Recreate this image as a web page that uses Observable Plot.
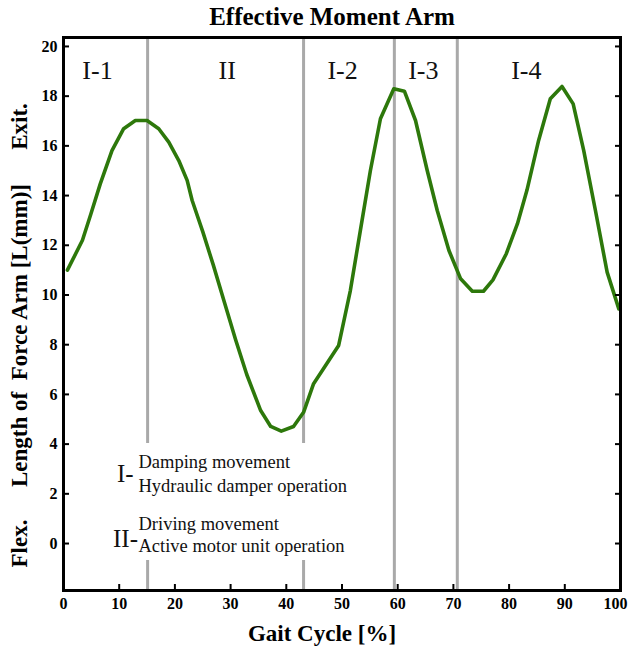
<!DOCTYPE html>
<html>
<head>
<meta charset="utf-8">
<script src="https://cdn.jsdelivr.net/npm/d3@7"></script>
<script src="https://cdn.jsdelivr.net/npm/@observablehq/plot@0.6"></script>
<style>
  body { margin: 0; background: #fff; }
  #wrap { position: relative; width: 630px; height: 650px; font-family: "Liberation Serif", "Times New Roman", serif; }
  #chart { position: absolute; left: 0; top: 0; }
  #title { position: absolute; left: 332px; top: 5px; transform: translateX(-50%); white-space: nowrap;
           font: bold 25px/24px "Liberation Serif", serif; color: #000; }
  #overlay { position: absolute; left: 0; top: 0; pointer-events: none; }
</style>
</head>
<body>
<div id="wrap">
  <div id="chart"></div>
  <div id="title">Effective Moment Arm</div>
  <svg id="overlay" width="630" height="650" xmlns="http://www.w3.org/2000/svg"></svg>
</div>
<script>
// ---- data ----
const gaitPercent = [0.7, 3.4, 4.9, 6.6, 8.7, 10.8, 12.9, 15.0, 17.1, 18.9, 20.7, 22.2, 23.1, 25.0, 26.9, 28.9, 30.9, 32.9, 35.4, 37.2, 39.1, 41.3, 43.1, 44.9, 49.4, 51.5, 53.3, 55.1, 56.9, 59.3, 61.2, 63.2, 65.3, 67.1, 69.2, 71.3, 73.4, 75.4, 77.1, 79.5, 81.5, 83.2, 85.3, 87.4, 89.5, 91.5, 93.4, 95.5, 97.6, 99.7];
const armLength   = [11.0, 12.2, 13.25, 14.47, 15.81, 16.69, 17.02, 17.02, 16.69, 16.15, 15.41, 14.61, 13.8, 12.55, 11.2, 9.7, 8.2, 6.8, 5.35, 4.71, 4.52, 4.71, 5.28, 6.43, 7.97, 10.18, 12.6, 15.01, 17.09, 18.3, 18.2, 17.02, 15.01, 13.4, 11.79, 10.65, 10.15, 10.15, 10.61, 11.66, 12.87, 14.21, 16.22, 17.9, 18.39, 17.69, 15.81, 13.4, 10.92, 9.44];
const phaseBounds = [15.1, 43.1, 59.4, 70.7];
const phaseLabels = ["I-1", "II", "I-2", "I-3", "I-4"];
const phaseLabelX = [6.1, 29.4, 50.1, 64.6, 83.1];
const phaseLabelY = 18.7;
const xTicks = [0, 10, 20, 30, 40, 50, 60, 70, 80, 90, 100];
const yTicks = [0, 2, 4, 6, 8, 10, 12, 14, 16, 18, 20];
const legendItems = [
  {key: "I-",  lines: ["Damping movement", "Hydraulic damper operation"]},
  {key: "II-", lines: ["Driving movement", "Active motor unit operation"]}
];

const curve = gaitPercent.map((x, i) => ({x, y: armLength[i]}));
const labels = phaseLabels.map((t, i) => ({t, x: phaseLabelX[i], y: phaseLabelY}));
const xTicksInner = xTicks.slice(0, -1);
const xTickLast = xTicks.slice(-1);

const chart = Plot.plot({
  width: 630,
  height: 650,
  marginLeft: 63,
  marginRight: 10,
  marginTop: 37,
  marginBottom: 60,
  style: {fontFamily: "'Liberation Serif', 'Times New Roman', serif", background: "white", color: "black"},
  x: {domain: [0, 100]},
  y: {domain: [-1.89, 20.36]},
  marks: [
    Plot.ruleX(phaseBounds, {stroke: "#a9a9a9", strokeWidth: 3}),
    Plot.line(curve, {x: "x", y: "y", stroke: "#2d780b", strokeWidth: 3.6, strokeLinejoin: "round", strokeLinecap: "round"}),
    Plot.text(labels, {x: "x", y: "y", text: "t", fontSize: 26, lineAnchor: "bottom", fill: "#111"}),
    Plot.axisX({ticks: xTicksInner, tickSize: -6, tickPadding: 13, fontSize: 16, fontWeight: "bold", label: null, strokeWidth: 2}),
    Plot.axisX({ticks: xTickLast, tickSize: 0, tickPadding: 7, fontSize: 16, fontWeight: "bold", label: null, dx: -5}),
    Plot.axisY({ticks: yTicks, tickSize: -6, tickPadding: 12, fontSize: 16, fontWeight: "bold", label: null, strokeWidth: 2}),
    Plot.axisY({anchor: "right", ticks: yTicks, tickSize: -6, tickFormat: () => "", label: null, strokeWidth: 2}),
    Plot.frame({stroke: "black", strokeWidth: 3})
  ]
});
document.getElementById("chart").appendChild(chart);

// ---- overlay: axis titles and phase legend ----
const ov = d3.select("#overlay");
const serif = "'Liberation Serif', 'Times New Roman', serif";

// y-axis title pieces (rotated)
[["Exit.", 126.5], ["Length of  Force Arm [L(mm)]", 335.5], ["Flex.", 543.5]].forEach(([t, cy]) => {
  ov.append("text")
    .attr("transform", `translate(27,${cy}) rotate(-90)`)
    .attr("text-anchor", "middle")
    .attr("font-family", serif).attr("font-weight", "bold").attr("font-size", 23)
    .style("white-space", "pre").attr("xml:space", "preserve")
    .text(t);
});

// x-axis title
ov.append("text")
  .attr("x", 322).attr("y", 641)
  .attr("text-anchor", "middle")
  .attr("font-family", serif).attr("font-weight", "bold").attr("font-size", 23)
  .text("Gait Cycle [%]");

// legend box (white, hides the phase lines behind it)
ov.append("rect").attr("x", 108).attr("y", 443).attr("width", 252).attr("height", 117).attr("fill", "white");
const keyPos = [{x: 117, y: 482}, {x: 113, y: 547}];
const linePos = [[468, 492], [530, 552]];
legendItems.forEach((item, i) => {
  ov.append("text").attr("x", keyPos[i].x).attr("y", keyPos[i].y)
    .attr("font-family", serif).attr("font-size", 25).attr("fill", "#111").text(item.key);
  item.lines.forEach((ln, j) => {
    ov.append("text").attr("x", 138.5).attr("y", linePos[i][j])
      .attr("font-family", serif).attr("font-size", 18.5).attr("fill", "#111").text(ln);
  });
});
</script>
</body>
</html>
